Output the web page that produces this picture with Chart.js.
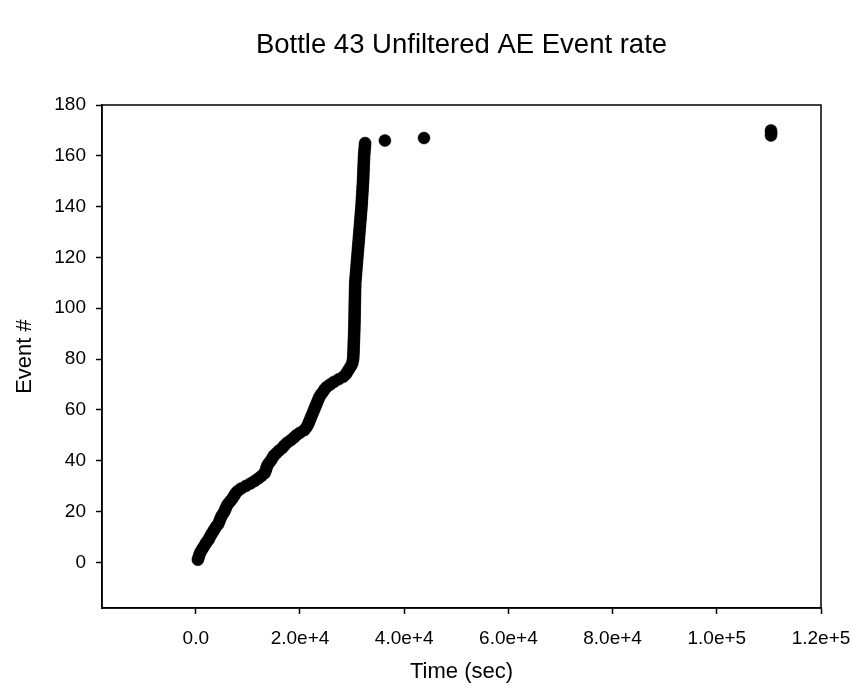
<!DOCTYPE html>
<html>
<head>
<meta charset="utf-8">
<script src="https://cdn.jsdelivr.net/npm/chart.js@4/dist/chart.umd.min.js"></script>
<style>
  html, body { margin: 0; padding: 0; background: #ffffff; }
  #wrap { width: 853px; height: 694px; position: relative; }
</style>
</head>
<body>
<div id="wrap"><canvas id="c" width="853" height="694"></canvas></div>
<script>
// Time (sec) of each AE event, events 1..170
const eventTimes = [
  400, 550, 700, 900, 1200, 1500, 1800, 2100, 2500, 2700,
  3000, 3300, 3600, 3900, 4300, 4500, 4700, 4900, 5200, 5500,
  5700, 5900, 6200, 6600, 7000, 7300, 7600, 8000, 8700, 9600,
  10500, 11300, 12000, 12600, 13200, 13400, 13550, 13700, 14000, 14400,
  14700, 15000, 15500, 16000, 16600, 17000, 17500, 18200, 18800, 19300,
  20000, 20800, 21200, 21500, 21700, 21900, 22100, 22300, 22500, 22700,
  22900, 23100, 23300, 23500, 23700, 24000, 24400, 24700, 25100, 25800,
  26500, 27400, 28300, 28800, 29100, 29400, 29700, 30000, 30100, 30200,
  30230, 30250, 30280, 30290, 30310, 30330, 30340, 30370, 30380, 30400,
  30410, 30430, 30440, 30450, 30470, 30470, 30490, 30490, 30500, 30510,
  30510, 30530, 30530, 30550, 30550, 30570, 30570, 30590, 30600, 30610,
  30640, 30690, 30720, 30770, 30800, 30850, 30880, 30930, 30960, 31000,
  31050, 31080, 31130, 31160, 31210, 31240, 31290, 31320, 31370, 31400,
  31450, 31480, 31530, 31560, 31610, 31640, 31690, 31720, 31770, 31800,
  31840, 31860, 31900, 31920, 31960, 31980, 32020, 32040, 32080, 32100,
  32130, 32140, 32170, 32180, 32210, 32220, 32250, 32260, 32290, 32300,
  32350, 32380, 32430, 32460, 32500,
  36300, 43800,
  110400, 110450, 110400
];
const eventNumbers = eventTimes.map((t, i) => i + 1);

const xTickValues = [0, 20000, 40000, 60000, 80000, 100000, 120000];
const yTickValues = [0, 20, 40, 60, 80, 100, 120, 140, 160, 180];

const chartTitle = 'Bottle 43 Unfiltered AE Event rate';
const xTitle = 'Time (sec)';
const yTitle = 'Event #';

const points = eventTimes.map((t, i) => ({ x: t, y: eventNumbers[i] }));

const FONT = "'Liberation Sans', Arial, sans-serif";

const frame = {
  id: 'frame',
  afterDatasetsDraw(chart) {
    const { ctx, chartArea: a } = chart;
    ctx.save();
    ctx.strokeStyle = '#000';
    ctx.lineWidth = 1.5;
    ctx.strokeRect(a.left, a.top, a.right - a.left, a.bottom - a.top);
    ctx.restore();
  }
};

new Chart(document.getElementById('c'), {
  type: 'scatter',
  data: {
    datasets: [{
      data: points,
      backgroundColor: '#000',
      borderColor: '#000',
      borderWidth: 0.5,
      pointRadius: 6,
      pointHoverRadius: 6
    }]
  },
  options: {
    responsive: false,
    animation: false,
    events: [],
    layout: { padding: { left: 0, right: 32, top: 0, bottom: 0 } },
    plugins: {
      legend: { display: false },
      tooltip: { enabled: false },
      title: {
        display: true,
        fullSize: false,
        text: chartTitle,
        color: '#000',
        font: { family: FONT, size: 27.5, weight: 'normal' },
        padding: { top: 29, bottom: 43 }
      }
    },
    scales: {
      x: {
        type: 'linear',
        min: -18000,
        max: 120000,
        afterBuildTicks(scale) { scale.ticks = xTickValues.map(v => ({ value: v })); },
        afterFit(scale) { scale.height = 86; scale.paddingRight = 0; scale.paddingLeft = 0; },
        border: { display: true, color: '#000', width: 1.5 },
        grid: { drawOnChartArea: false, drawTicks: true, tickLength: 6, color: '#000', tickWidth: 1.5 },
        ticks: {
          color: '#000',
          font: { family: FONT, size: 19 },
          padding: 13,
          maxRotation: 0,
          autoSkip: false,
          callback: v => v === 0 ? '0.0' : Number(v).toExponential(1)
        },
        title: {
          display: true,
          text: xTitle,
          color: '#000',
          font: { family: FONT, size: 22 },
          padding: { top: 0, bottom: 9 }
        }
      },
      y: {
        type: 'linear',
        min: -18,
        max: 180,
        afterBuildTicks(scale) { scale.ticks = yTickValues.map(v => ({ value: v })); },
        afterFit(scale) { scale.width = 102; },
        border: { display: true, color: '#000', width: 1.5 },
        grid: { drawOnChartArea: false, drawTicks: true, tickLength: 6, color: '#000', tickWidth: 1.5 },
        ticks: {
          color: '#000',
          font: { family: FONT, size: 19 },
          padding: 10,
          autoSkip: false
        },
        title: {
          display: true,
          text: yTitle,
          color: '#000',
          font: { family: FONT, size: 22 },
          padding: { top: 12, bottom: 0 }
        }
      }
    }
  },
  plugins: [frame]
});
</script>
</body>
</html>
